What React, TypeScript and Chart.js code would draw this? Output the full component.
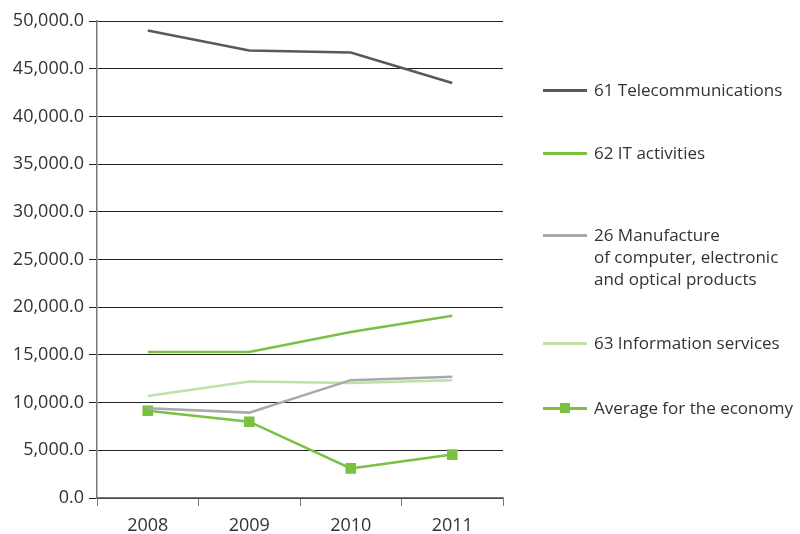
import React, { useEffect, useRef } from "react";
import { Chart, registerables } from "chart.js";

Chart.register(...registerables);

const years = ["2008", "2009", "2010", "2011"];
const telecom = [49000, 46900, 46700, 43500];
const itActivities = [15300, 15300, 17400, 19100];
const manufacture = [9400, 8950, 12350, 12700];
const infoServices = [10700, 12200, 12050, 12350];
const average = [9150, 8000, 3100, 4550];

const seriesNames = [
  ["61 Telecommunications"],
  ["62 IT activities"],
  ["26 Manufacture", "of computer, electronic", "and optical products"],
  ["63 Information services"],
  ["Average for the economy"],
];
const colors = ["#58595b", "#7ac143", "#a7a9ac", "#bfe0a6", "#7ac143"];
const legendTops = [79, 142, 224, 332, 397];

const FONT = "'Open Sans', sans-serif";

export default function App() {
  const ref = useRef<HTMLCanvasElement | null>(null);
  useEffect(() => {
    document.body.style.margin = "0";
    const ctx = ref.current!.getContext("2d")!;
    const seriesData = [telecom, itActivities, manufacture, infoServices, average];
    const chart = new Chart(ctx, {
      type: "line",
      data: {
        labels: years,
        datasets: seriesData.map((d, i) => ({
          label: seriesNames[i].join(" "),
          data: d,
          borderColor: colors[i],
          backgroundColor: colors[i],
          borderWidth: 2.5,
          pointRadius: i === 4 ? 7.5 : 0,
          pointStyle: "rect",
          pointBorderWidth: 0,
          tension: 0,
        })),
      },
      options: {
        animation: false,
        responsive: false,
        layout: { padding: { top: 21, right: 297, left: 0, bottom: 0 } },
        plugins: { legend: { display: false }, tooltip: { enabled: false } },
        scales: {
          x: {
            offset: true,
            grid: {
              offset: true,
              drawOnChartArea: false,
              drawTicks: true,
              tickLength: 8,
              color: "#777",
            },
            border: { color: "#777", width: 1.5 },
            ticks: { color: "#333", font: { family: FONT, size: 18 }, padding: 9 },
            afterFit: (s: any) => {
              s.height = 36;
            },
          },
          y: {
            min: 0,
            max: 50000,
            ticks: {
              stepSize: 5000,
              color: "#333",
              padding: 5,
              font: { family: FONT, size: 18 },
              callback: (v: any) =>
                Number(v).toLocaleString("en-US", {
                  minimumFractionDigits: 1,
                  maximumFractionDigits: 1,
                }),
            },
            grid: { color: "#222", lineWidth: 1, tickLength: 8 },
            border: { color: "#777", width: 1.5 },
            afterFit: (s: any) => {
              s.width = 97;
            },
          },
        },
      },
    });
    return () => chart.destroy();
  }, []);

  return (
    <div style={{ position: "relative", width: 800, height: 534, fontFamily: FONT }}>
      <canvas ref={ref} width={800} height={534} style={{ display: "block" }} />
      {seriesNames.map((lines, i) => (
        <div
          key={i}
          style={{ position: "absolute", left: 543, top: legendTops[i], display: "flex" }}
        >
          <div style={{ width: 44, height: 22, position: "relative", marginRight: 7 }}>
            <div
              style={{
                position: "absolute",
                left: 0,
                right: 0,
                top: 10,
                height: 2.5,
                background: colors[i],
              }}
            />
            {i === 4 && (
              <div
                style={{
                  position: "absolute",
                  left: 17,
                  top: 6,
                  width: 10,
                  height: 10,
                  background: colors[i],
                }}
              />
            )}
          </div>
          <div style={{ fontSize: 17, lineHeight: "22px", color: "#333", whiteSpace: "nowrap" }}>
            {lines.map((l, j) => (
              <div key={j}>{l}</div>
            ))}
          </div>
        </div>
      ))}
    </div>
  );
}
